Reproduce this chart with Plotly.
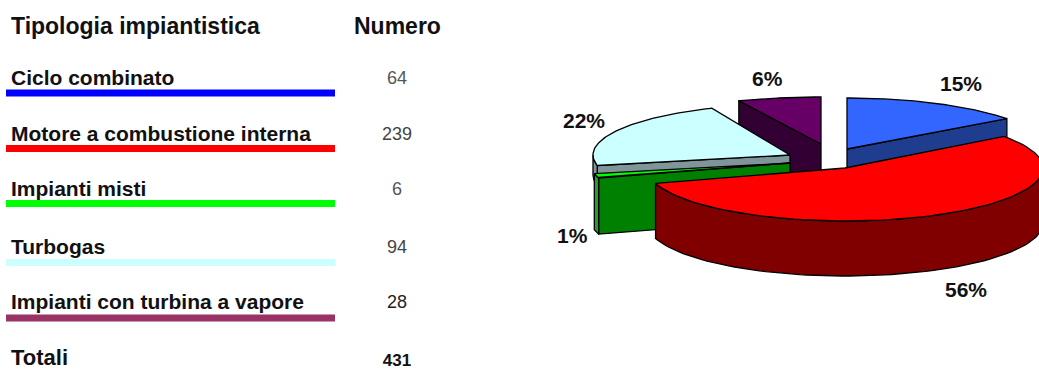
import numpy as np
import plotly.graph_objects as go

categories = ["Ciclo combinato", "Motore a combustione interna", "Impianti misti", "Turbogas", "Impianti con turbina a vapore"]
counts = [64, 239, 6, 94, 28]
total_label = "431"
pct_labels = ["15%", "56%", "1%", "22%", "6%"]
header_left = "Tipologia impiantistica"
header_right = "Numero"
total_name = "Totali"

bar_colors = ["#0000FF", "#FF0000", "#00FF00", "#CCFFFF", "#993366"]
top_colors = ["#3366FF", "#FF0000", "#00FF00", "#CCFFFF", "#660066"]
cut_colors = ["#1F3D8F", "#800000", "#008000", "#7F9599", "#330033"]
rim_colors = ["#1F3D8F", "#800000", "#2E9A2E", "#7F9599", "#330033"]
# per-slice exploded projection: apex x, apex y, semi-axes, extrusion depth
geom = [(847, 149, 199, 51, 55), (845, 168, 198, 53, 55), (790, 163, 200, 52, 56),
        (790, 155, 197, 51, 20), (821, 144, 207, 47, 50)]
label_pos = [(961, 83), (966, 289), (572, 235), (584, 120), (767, 78)]
row_y = [77, 133, 188, 246, 301]
bar_y = [93, 148.5, 203.5, 262.5, 318]
num_colors = ["#555555", "#444444", "#555555", "#444444", "#222222"]

shares = np.array(counts, dtype=float) / sum(counts)
edges = np.concatenate([[0], np.cumsum(shares)]) * 2 * np.pi

fig = go.Figure()

def poly(xs, ys, color):
    fig.add_trace(go.Scatter(x=list(xs), y=list(ys), mode="lines", fill="toself", fillcolor=color,
                             line=dict(color="#000000", width=1.3), hoverinfo="skip", showlegend=False))

def arc(i, n=80):
    cx, cy, a, b, d = geom[i]
    t = np.linspace(edges[i], edges[i + 1], n)
    return cx + a * np.sin(t), cy - b * np.cos(t)

def draw_side(i):
    cx, cy, a, b, d = geom[i]
    ax, ay = arc(i)
    t0, t1 = edges[i], edges[i + 1]
    if i == 0:
        ex, ey = ax[-1], ay[-1]
        poly([cx, ex, ex, cx, cx], [cy, ey, ey + d, cy + d, cy], cut_colors[i])
    if i in (2, 3, 4):
        ex, ey = ax[0], ay[0]
        poly([cx, ex, ex, cx, cx], [cy, ey, ey + d, cy + d, cy], cut_colors[i])
    lo, hi = max(t0, np.pi / 2), min(t1, 1.5 * np.pi)
    if hi > lo:
        t = np.linspace(lo, hi, 80)
        rx, ry = cx + a * np.sin(t), cy - b * np.cos(t)
        poly(np.r_[rx, rx[::-1], rx[0]], np.r_[ry, ry[::-1] + d, ry[0]], rim_colors[i])

def draw_top(i):
    cx, cy, a, b, d = geom[i]
    ax, ay = arc(i)
    poly(np.r_[cx, ax, cx], np.r_[cy, ay, cy], top_colors[i])

for i in (4, 0, 3, 2, 1):
    draw_side(i)
    draw_top(i)

for i in range(5):
    fig.add_trace(go.Scatter(x=[6, 335], y=[bar_y[i], bar_y[i]], mode="lines",
                             line=dict(color=bar_colors[i], width=7), hoverinfo="skip", showlegend=False))

F = "Liberation Sans"
def text(x, y, s, size, color="#000000", bold=False, anchor="left"):
    fig.add_annotation(x=x, y=y, xref="x", yref="y", text=f"<b>{s}</b>" if bold else s, showarrow=False,
                       xanchor=anchor, yanchor="middle", font=dict(family=F, size=size, color=color))

text(9, 26, header_left, 23, "#111111", bold=True)
text(397, 26, header_right, 23, "#111111", bold=True, anchor="center")
for i, c in enumerate(categories):
    text(9, row_y[i], c, 21, "#111111", bold=True)
    text(397, row_y[i] + 1, str(counts[i]), 18, num_colors[i], anchor="center")
# bottom row sits at the very edge of the page: drawn as scatter text
fig.add_trace(go.Scatter(x=[11], y=[359], mode="text", text=[f"<b>{total_name}</b>"], textposition="middle right",
                         textfont=dict(family=F, size=22, color="#111111"), hoverinfo="skip", showlegend=False))
fig.add_trace(go.Scatter(x=[397], y=[362], mode="text", text=[f"<b>{total_label}</b>"], textposition="middle center",
                         textfont=dict(family=F, size=17, color="#111111"), hoverinfo="skip", showlegend=False))
for (x, y), s in zip(label_pos, pct_labels):
    text(x, y, s, 21, "#111111", bold=True, anchor="center")

fig.update_layout(width=1039, height=369, margin=dict(l=0, r=0, t=0, b=0), paper_bgcolor="white",
                  plot_bgcolor="white", showlegend=False,
                  xaxis=dict(range=[0, 1039], visible=False, fixedrange=True),
                  yaxis=dict(range=[369, 0], visible=False, fixedrange=True))
fig.write_html("out.html", config={"displayModeBar": False},
               post_script="document.body.style.margin='0';document.body.style.overflow='hidden';")
